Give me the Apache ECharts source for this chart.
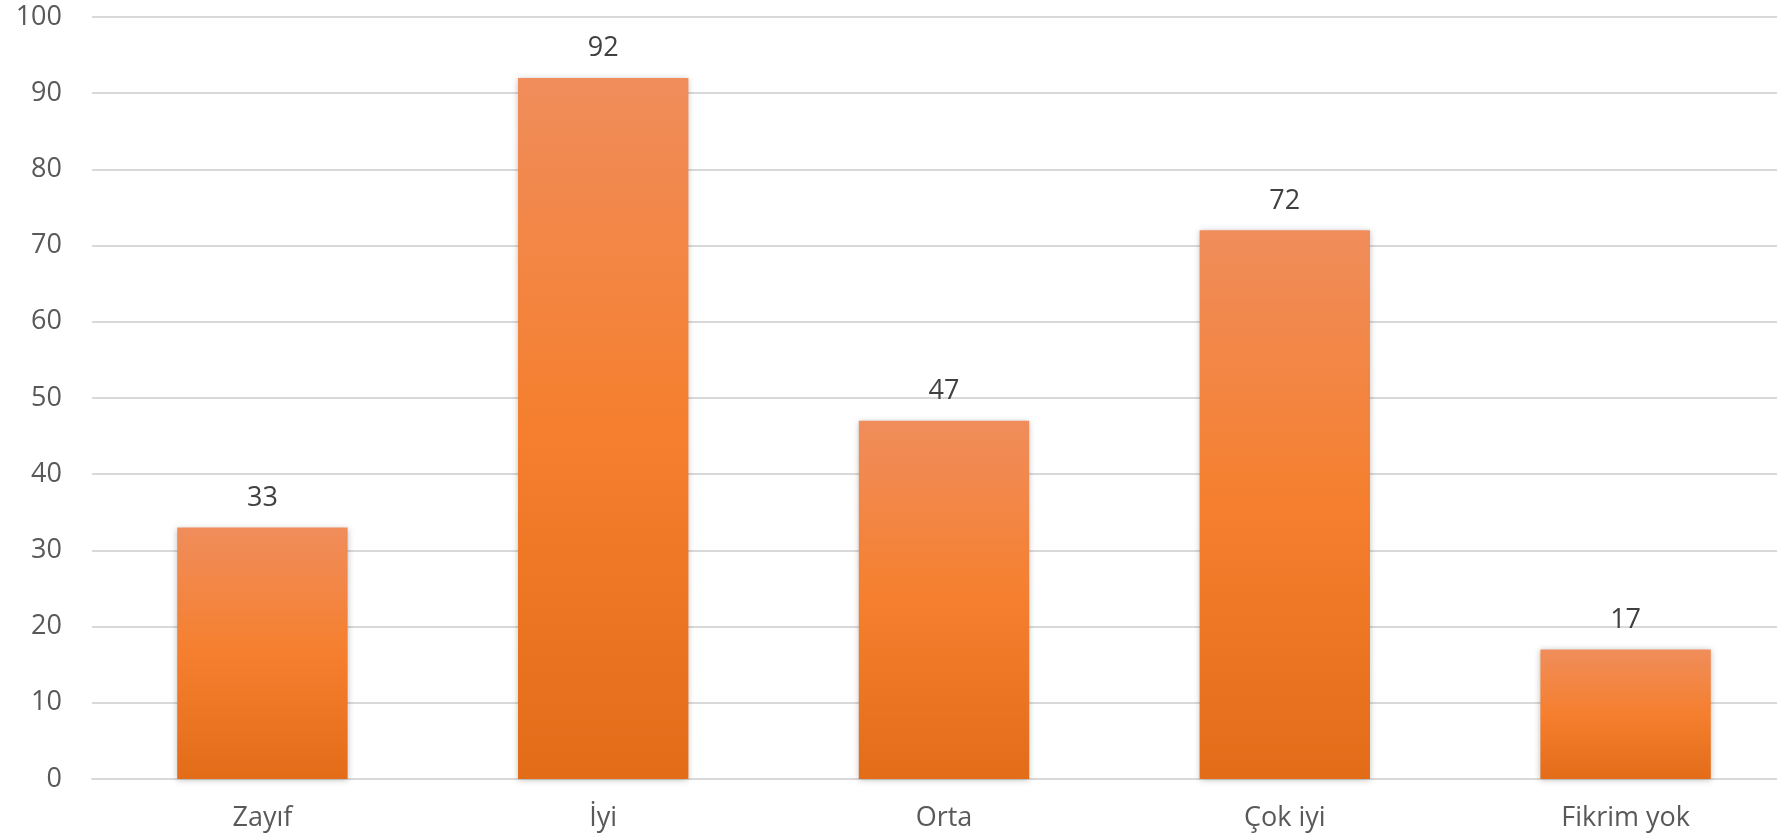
<!DOCTYPE html>
<html>
<head>
<meta charset="utf-8">
<script src="https://cdn.jsdelivr.net/npm/echarts@6/dist/echarts.min.js"></script>
<style>html,body{margin:0;padding:0;background:#fff}#c{width:1777px;height:839px}</style>
</head>
<body>
<div id="c"></div>
<script>
var categories = ['Zayıf', 'İyi', 'Orta', 'Çok iyi', 'Fikrim yok'];
var values = [33, 92, 47, 72, 17];
var yTicks = [0, 10, 20, 30, 40, 50, 60, 70, 80, 90, 100];

var chart = echarts.init(document.getElementById('c'));
chart.setOption({
  animation: false,
  grid: { left: 92, width: 1704, top: 17, height: 762, outerBoundsMode: 'none', containLabel: false },
  xAxis: {
    type: 'category',
    data: categories,
    axisLine: { show: true, lineStyle: { color: '#d9d9d9', width: 2 } },
    axisTick: { show: false },
    axisLabel: { color: '#595959', fontSize: 27, fontFamily: 'Open Sans', margin: 26 }
  },
  yAxis: {
    type: 'value',
    min: yTicks[0],
    max: yTicks[yTicks.length - 1],
    interval: 10,
    axisLine: { show: false },
    axisTick: { show: false },
    splitLine: { lineStyle: { color: '#d9d9d9', width: 2 } },
    axisLabel: { color: '#595959', fontSize: 27, fontFamily: 'Open Sans', margin: 30 }
  },
  series: [{
    type: 'bar',
    data: values,
    barWidth: '50%',
    itemStyle: {
      color: new echarts.graphic.LinearGradient(0, 0, 0, 1, [
        { offset: 0, color: '#F08D5B' },
        { offset: 0.5, color: '#F57F2E' },
        { offset: 1, color: '#E36C19' }
      ]),
      shadowColor: 'rgba(0,0,0,0.25)',
      shadowBlur: 6,
      shadowOffsetX: 0,
      shadowOffsetY: 1
    },
    label: {
      show: true,
      position: 'top',
      distance: 16,
      color: '#404040',
      fontSize: 27,
      fontFamily: 'Open Sans'
    }
  }]
});
</script>
</body>
</html>
